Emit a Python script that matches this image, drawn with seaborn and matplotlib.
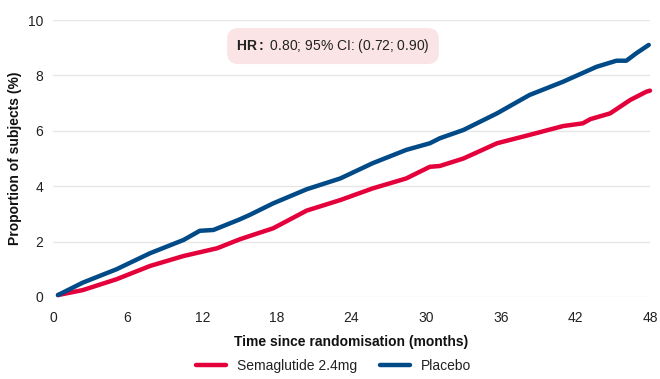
import matplotlib
matplotlib.use("Agg")
import matplotlib.pyplot as plt
import seaborn as sns
import pandas as pd

# Cumulative incidence read at roughly evenly spaced follow-up times (months)
sema_months = [0.4, 2.4, 5.1, 7.8, 10.5, 13.2, 15.0, 15.8, 17.7, 20.4, 23.1, 25.7,
               28.4, 30.3, 31.1, 33.0, 35.7, 38.3, 41.0, 42.6, 43.2, 44.8, 46.4, 47.7, 48.0]
sema_pct = [0.07, 0.25, 0.64, 1.12, 1.48, 1.76, 2.08, 2.20, 2.48, 3.12, 3.50, 3.92,
            4.28, 4.70, 4.73, 5.00, 5.55, 5.85, 6.17, 6.27, 6.42, 6.63, 7.11, 7.41, 7.45]

placebo_months = [0.4, 2.4, 5.1, 7.8, 10.5, 11.8, 12.9, 15.0, 15.8, 17.7, 20.4, 23.1,
                  25.7, 28.4, 30.3, 31.1, 33.0, 35.7, 38.3, 41.0, 43.7, 45.3, 46.1, 46.9, 47.9]
placebo_pct = [0.07, 0.52, 1.00, 1.58, 2.06, 2.39, 2.42, 2.80, 2.96, 3.38, 3.89, 4.28,
               4.83, 5.31, 5.55, 5.73, 6.03, 6.63, 7.29, 7.77, 8.31, 8.53, 8.53, 8.80, 9.10]

arm_names = ["Semaglutide 2.4mg", "Placebo"]
arm_colors = ["#E4003B", "#004B87"]
x_ticks = [0, 6, 12, 18, 24, 30, 36, 42, 48]
y_ticks = [0, 2, 4, 6, 8, 10]

df = pd.concat([
    pd.DataFrame({"month": sema_months, "pct": sema_pct, "arm": arm_names[0]}),
    pd.DataFrame({"month": placebo_months, "pct": placebo_pct, "arm": arm_names[1]}),
])

sns.set_theme(style="white")
plt.rcParams["font.family"] = ["Liberation Sans", "DejaVu Sans"]
plt.rcParams["mathtext.fontset"] = "custom"
plt.rcParams["mathtext.rm"] = "Liberation Sans"
plt.rcParams["mathtext.bf"] = "Liberation Sans:bold"

fig = plt.figure(figsize=(6.6, 3.79), dpi=100)
ax = fig.add_axes([53 / 660, 1 - 297 / 379, (650 - 53) / 660, (297 - 20) / 379])

sns.lineplot(data=df, x="month", y="pct", hue="arm", hue_order=arm_names,
             palette=arm_colors, linewidth=3.2, ax=ax, legend=True,
             estimator=None, sort=True)
for ln in ax.lines:
    ln.set_clip_on(False)
    ln.set_solid_capstyle("round")
    ln.set_solid_joinstyle("round")

ax.set_xlim(0, 48)
ax.set_ylim(0, 10)
ax.set_xticks(x_ticks)
ax.set_yticks(y_ticks)
ax.tick_params(axis="x", length=0, labelsize=10, colors="#222222", pad=10)
ax.tick_params(axis="y", length=0, labelsize=10, colors="#222222", pad=7)
ax.yaxis.grid(True, color="#e6e6e6", linewidth=1.0)
ax.xaxis.grid(False)
ax.set_axisbelow(True)
for s in ax.spines.values():
    s.set_visible(False)

ax.set_xlabel("Time since randomisation (months)", fontsize=10, fontweight="bold",
              color="#111111", labelpad=7)
ax.set_ylabel("Proportion of subjects (%)", fontsize=10, fontweight="bold",
              color="#111111", labelpad=4)

# Hazard ratio callout
ax.text(0.469, 0.906, r"$\mathbf{HR{:}}$ 0.80; 95% CI: (0.72; 0.90)", transform=ax.transAxes,
        ha="center", va="center", fontsize=10, color="#222222",
        bbox=dict(boxstyle="round,pad=0.65,rounding_size=0.8", facecolor="#FBE4E6",
                  edgecolor="none"))

handles, labels = ax.get_legend_handles_labels()
ax.legend(handles, labels, loc="center", bbox_to_anchor=(0.47, -0.25), ncol=2,
          frameon=False, fontsize=10, handlelength=2.2, columnspacing=1.6,
          handletextpad=0.8)
for h in ax.get_legend().get_lines():
    h.set_linewidth(3.2)
for t in ax.get_legend().get_texts():
    t.set_color("#222222")

fig.savefig("out.png", dpi=100)
